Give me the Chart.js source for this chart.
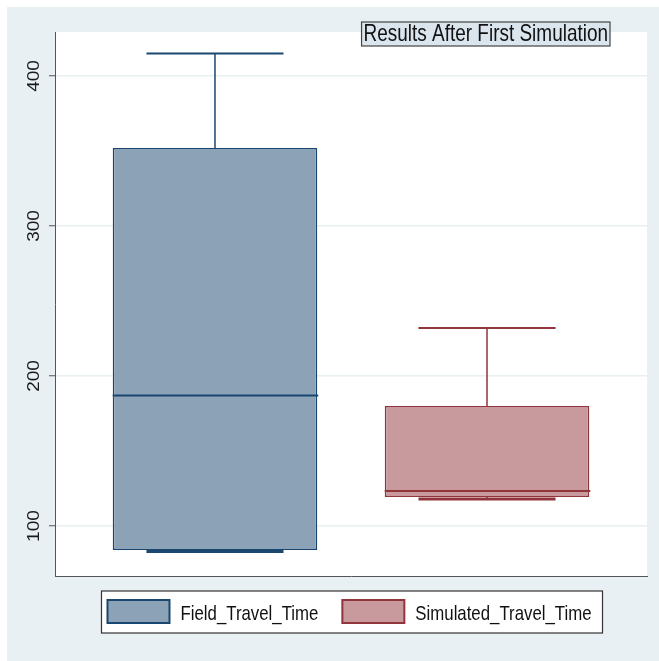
<!DOCTYPE html>
<html>
<head>
<meta charset="utf-8">
<script src="https://cdn.jsdelivr.net/npm/chart.js@4/dist/chart.umd.min.js"></script>
<style>
html, body { margin: 0; padding: 0; background: #fff; }
</style>
</head>
<body>
<canvas id="boxCanvas" width="659" height="661"></canvas>
<script>
// data
const chartTitle = 'Results After First Simulation';
const seriesNames = ['Field_Travel_Time', 'Simulated_Travel_Time'];
const lowWhisker = [83, 118];
const q1 = [84, 119.3];
const median = [187, 123.3];
const q3 = [352, 180];
const highWhisker = [415, 232];
const yTicks = [100, 200, 300, 400];

const fills = ['#8ca3b7', '#c89a9d'];
const lines = ['#1a476f', '#90353b'];

function squishText(ctx, text, x, y, size, align, sx) {
	ctx.save();
	ctx.translate(x, y);
	ctx.scale(sx, 1);
	ctx.font = size + 'px "Liberation Sans", Arial, sans-serif';
	ctx.textAlign = align;
	ctx.textBaseline = 'middle';
	ctx.fillStyle = '#111';
	ctx.fillText(text, 0, 0);
	ctx.restore();
}

function seg(ctx, x1, y1, x2, y2) {
	ctx.beginPath();
	ctx.moveTo(x1, y1);
	ctx.lineTo(x2, y2);
	ctx.stroke();
}

const background = {
	id: 'background',
	beforeDraw(chart) {
		const ctx = chart.ctx, a = chart.chartArea;
		ctx.save();
		ctx.fillStyle = '#fff';
		ctx.fillRect(0, 0, chart.width, chart.height);
		ctx.fillStyle = '#e9f0f3';
		ctx.fillRect(7, 7, chart.width - 7, chart.height - 7);
		ctx.fillStyle = '#fff';
		ctx.fillRect(a.left, a.top, a.right - a.left, a.bottom - a.top);
		ctx.restore();
	}
};

const whiskers = {
	id: 'whiskers',
	afterDatasetsDraw(chart) {
		const ctx = chart.ctx, y = chart.scales.y;
		seriesNames.forEach((name, i) => {
			const bar = chart.getDatasetMeta(i).data[0];
			const cx = bar.x, w = bar.width, cap = w * 0.67;
			ctx.save();
			ctx.strokeStyle = lines[i];
			ctx.lineWidth = 1.5;
			seg(ctx, cx, y.getPixelForValue(q3[i]), cx, y.getPixelForValue(highWhisker[i]));
			seg(ctx, cx, y.getPixelForValue(lowWhisker[i]), cx, y.getPixelForValue(q1[i]));
			ctx.lineWidth = 2;
			seg(ctx, cx - cap / 2, y.getPixelForValue(highWhisker[i]), cx + cap / 2, y.getPixelForValue(highWhisker[i]));
			ctx.lineWidth = 3;
			seg(ctx, cx - cap / 2, y.getPixelForValue(lowWhisker[i]), cx + cap / 2, y.getPixelForValue(lowWhisker[i]));
			ctx.lineWidth = 2;
			seg(ctx, cx - w / 2, y.getPixelForValue(median[i]), cx + w / 2 + 1, y.getPixelForValue(median[i]));
			ctx.restore();
		});
	}
};

const decorations = {
	id: 'decorations',
	afterDraw(chart) {
		const ctx = chart.ctx, a = chart.chartArea, y = chart.scales.y;

		// rotated y tick labels
		y.ticks.forEach(t => {
			ctx.save();
			ctx.translate(35, y.getPixelForValue(t.value));
			ctx.rotate(-Math.PI / 2);
			ctx.scale(1, 0.85);
			ctx.font = '19px "Liberation Sans", Arial, sans-serif';
			ctx.textAlign = 'center';
			ctx.textBaseline = 'middle';
			ctx.fillStyle = '#1a1a1a';
			ctx.fillText(String(t.value), 0, 0);
			ctx.restore();
		});

		// title box
		ctx.save();
		ctx.font = '24px "Liberation Sans", Arial, sans-serif';
		const tw = ctx.measureText(chartTitle).width * 0.79;
		ctx.restore();
		const tRight = a.right - 37, tLeft = tRight - tw - 4;
		ctx.save();
		ctx.fillStyle = '#dbe5ee';
		ctx.fillRect(tLeft, 22, tRight - tLeft, 24);
		ctx.strokeStyle = '#444';
		ctx.lineWidth = 1.2;
		ctx.strokeRect(tLeft, 22, tRight - tLeft, 24);
		ctx.restore();
		squishText(ctx, chartTitle, (tLeft + tRight) / 2, 34, 24, 'center', 0.79);

		// legend
		ctx.save();
		ctx.font = '21px "Liberation Sans", Arial, sans-serif';
		const widths = seriesNames.map(n => ctx.measureText(n).width * 0.8);
		ctx.restore();
		const sw = 62, sh = 23, gap = 11, between = 24;
		let total = 0;
		widths.forEach((w, i) => { total += sw + gap + w + (i < widths.length - 1 ? between : 0); });
		const fw = total + 17;
		const fx = (a.left + a.right) / 2 - fw / 2 + 1, fy = 591, fh = 42;
		ctx.save();
		ctx.fillStyle = '#fff';
		ctx.fillRect(fx, fy, fw, fh);
		ctx.strokeStyle = '#333';
		ctx.lineWidth = 1.2;
		ctx.strokeRect(fx, fy, fw, fh);
		ctx.restore();
		let x = fx + 6;
		seriesNames.forEach((n, i) => {
			ctx.save();
			ctx.fillStyle = fills[i];
			ctx.fillRect(x, 600, sw, sh);
			ctx.strokeStyle = lines[i];
			ctx.lineWidth = 2;
			ctx.strokeRect(x, 600, sw, sh);
			ctx.restore();
			squishText(ctx, n, x + sw + gap, 614, 21, 'left', 0.8);
			x += sw + gap + widths[i] + between;
		});
	}
};

new Chart(document.getElementById('boxCanvas'), {
	type: 'bar',
	data: {
		labels: ['travel time'],
		datasets: seriesNames.map((name, i) => ({
			label: name,
			data: [[q1[i], q3[i]]],
			backgroundColor: fills[i],
			borderColor: lines[i],
			borderWidth: 1.5,
			borderSkipped: false,
			categoryPercentage: 0.919,
			barPercentage: 0.752
		}))
	},
	options: {
		responsive: false,
		animation: false,
		layout: { padding: { left: 0, top: 32, right: 12, bottom: 85 } },
		plugins: {
			legend: { display: false },
			tooltip: { enabled: false },
			title: { display: false }
		},
		scales: {
			x: {
				grid: { display: false },
				ticks: { display: false },
				border: { display: true, color: '#555', width: 1 },
				afterFit(s) { s.height = 0; }
			},
			y: {
				min: 66.7,
				max: 429.3,
				afterBuildTicks(s) { s.ticks = yTicks.map(v => ({ value: v })); },
				ticks: { display: false },
				grid: { color: '#e8f0f2', lineWidth: 1.5, tickColor: '#555', tickLength: 6, tickWidth: 1 },
				border: { display: true, color: '#555', width: 1 },
				afterFit(s) { s.width = 55; }
			}
		}
	},
	plugins: [background, whiskers, decorations]
});
</script>
</body>
</html>
